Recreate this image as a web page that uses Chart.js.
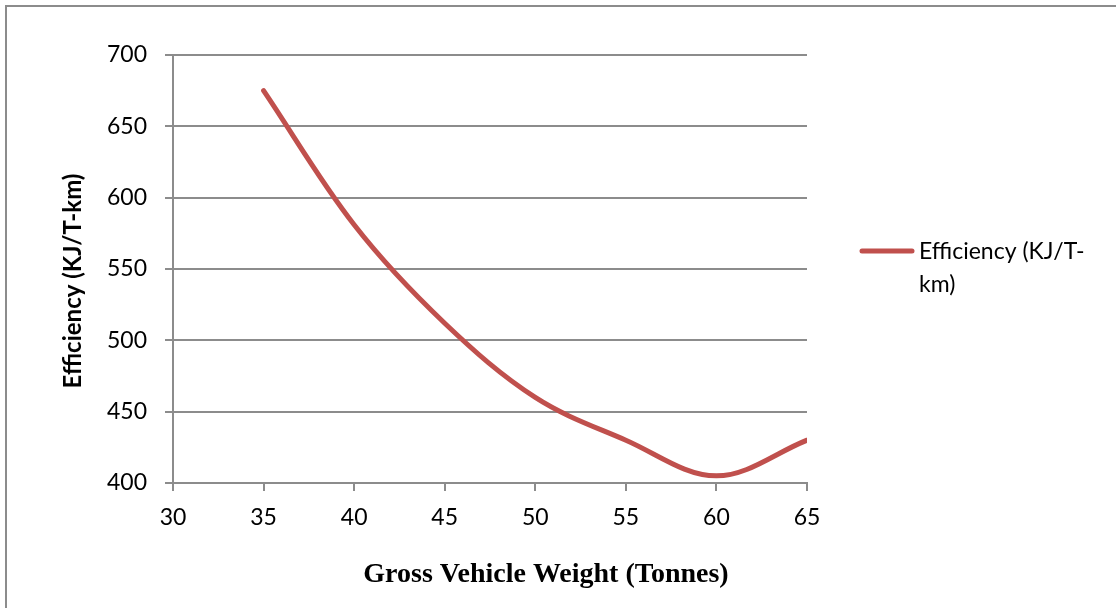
<!DOCTYPE html>
<html>
<head>
<meta charset="utf-8">
<script src="https://cdn.jsdelivr.net/npm/chart.js@4/dist/chart.umd.min.js"></script>
<style>
  html, body { margin: 0; padding: 0; background: #fff; }
  #wrap { position: relative; width: 1116px; height: 608px; }
  canvas { display: block; }
</style>
</head>
<body>
<div id="wrap"><canvas id="chart" width="1116" height="608"></canvas></div>
<script>
// Gross vehicle weight (tonnes) and energy efficiency (KJ per tonne-km)
const weights = [35, 40, 45, 50, 55, 60, 65];
const efficiency = [675, 581, 512, 460, 430, 405, 430];
const seriesName = 'Efficiency (KJ/T-km)';
const legendLines = ['Efficiency (KJ/T-', 'km)'];
const xTitle = 'Gross Vehicle Weight (Tonnes)';
const yTitle = 'Efficiency (KJ/T-km)';

const RED = '#C0504D';
const GRID = '#8c8c8c';
const TICK_FONT = { family: 'Lato', size: 23 };

// Outer frame, axis titles and a wrapped legend drawn onto the canvas
const decorPlugin = {
  id: 'decor',
  beforeDraw(chart) {
    const ctx = chart.ctx;
    ctx.save();
    ctx.strokeStyle = '#8c8c8c';
    ctx.lineWidth = 2;
    ctx.beginPath();
    ctx.moveTo(6, 608);
    ctx.lineTo(6, 6);
    ctx.lineTo(1116, 6);
    ctx.stroke();
    ctx.restore();
  },
  afterDraw(chart) {
    const ctx = chart.ctx;
    ctx.save();
    // legend
    ctx.strokeStyle = RED;
    ctx.lineWidth = 5;
    ctx.lineCap = 'round';
    ctx.beginPath();
    ctx.moveTo(862, 251);
    ctx.lineTo(912, 251);
    ctx.stroke();
    ctx.fillStyle = '#000';
    ctx.font = '23px Lato';
    ctx.textBaseline = 'middle';
    ctx.textAlign = 'left';
    legendLines.forEach((t, i) => ctx.fillText(t, 919, 252 + i * 33));
    // x axis title
    ctx.font = 'bold 28px "Liberation Serif"';
    ctx.textAlign = 'center';
    ctx.textBaseline = 'alphabetic';
    ctx.fillText(xTitle, 546, 582);
    // y axis title
    ctx.translate(73, 281);
    ctx.rotate(-Math.PI / 2);
    ctx.font = 'bold 24px Lato';
    ctx.textBaseline = 'middle';
    ctx.fillText(yTitle, 0, 0);
    ctx.restore();
  }
};

new Chart(document.getElementById('chart'), {
  type: 'line',
  data: {
    datasets: [{
      label: seriesName,
      data: weights.map((w, i) => ({ x: w, y: efficiency[i] })),
      borderColor: RED,
      backgroundColor: RED,
      borderWidth: 5,
      borderCapStyle: 'round',
      borderJoinStyle: 'round',
      pointRadius: 0,
      tension: 0.35,
      fill: false
    }]
  },
  options: {
    responsive: false,
    animation: false,
    layout: { padding: { left: 0, top: 55, right: 309, bottom: 0 } },
    plugins: { legend: { display: false }, tooltip: { enabled: false } },
    scales: {
      x: {
        type: 'linear',
        min: 30, max: 65,
        afterFit(scale) { scale.height = 125; },
        ticks: { stepSize: 5, color: '#000', font: TICK_FONT, padding: 13, maxRotation: 0 },
        grid: { drawOnChartArea: false, drawTicks: true, tickLength: 8, color: GRID, lineWidth: 2 },
        border: { display: true, color: GRID, width: 2 },
        title: { display: false }
      },
      y: {
        min: 400, max: 700,
        afterFit(scale) { scale.width = 173; },
        ticks: { stepSize: 50, color: '#000', font: TICK_FONT, padding: 18 },
        grid: { drawTicks: true, tickLength: 8, color: GRID, lineWidth: 2 },
        border: { display: true, color: GRID, width: 2 },
        title: { display: false }
      }
    }
  },
  plugins: [decorPlugin]
});
</script>
</body>
</html>
